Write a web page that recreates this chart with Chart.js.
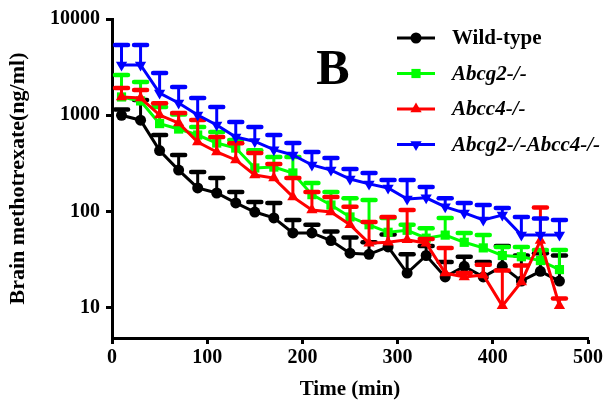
<!DOCTYPE html>
<html>
<head>
<meta charset="utf-8">
<script src="https://cdn.jsdelivr.net/npm/chart.js@4/dist/chart.umd.min.js"></script>
<style>
  html, body { margin: 0; padding: 0; background: #fff; }
</style>
</head>
<body>
<canvas id="brain-mtx-chart" width="606" height="410"></canvas>
<script>
// sampling times (min)
const times = [10, 30, 50, 70, 90, 110, 130, 150, 170, 190, 210, 230, 250, 270, 290, 310, 330, 350, 370, 390, 410, 430, 450, 470];

// brain methotrexate (ng/ml), mean and SD
const wildType = [1000, 890, 430, 270, 176, 156, 123, 99, 86, 60, 60, 50, 37, 36, 43, 23, 35, 21, 27, 21, 27, 19, 24, 19];
const wildTypeSD = [150, 550, 195, 117, 82, 67, 37, 27, 37, 22, 13, 12, 17, 12, 15, 13, 9, 9, 7, 9, 17, 16, 13, 16];
const abcg2 = [1550, 1410, 820, 720, 624, 515, 457, 284, 290, 252, 150, 117, 88, 73, 61, 64, 53, 57, 48, 42, 35, 34, 31, 25];
const abcg2SD = [1070, 810, 400, 300, 133, 155, 97, 150, 80, 118, 48, 43, 50, 59, 25, 9, 14, 29, 12, 15, 8, 9, 9, 15];
const abcc4 = [1550, 1510, 1007, 832, 528, 416, 344, 240, 223, 142, 104, 99, 73, 47, 48, 51, 47, 23, 21, 22, 10.5, 18.6, 50, 10.5];
const abcc4SD = [370, 320, 330, 225, 365, 180, 170, 166, 90, 81, 56, 43, 39, 31, 40, 53, 5, 19, 2, 6, 14, 9, 60, 2];
const doubleKO = [3330, 3330, 1705, 1342, 1007, 793, 595, 535, 440, 387, 305, 270, 218, 194, 176, 135, 139, 112, 97, 82, 92, 57, 57, 57];
const doubleKOSD = [2040, 2040, 1045, 625, 506, 427, 257, 220, 184, 128, 111, 90, 59, 58, 37, 78, 41, 26, 26, 35, 17, 31, 28, 25];

const seriesNames = ['Wild-type', 'Abcg2-/-', 'Abcc4-/-', 'Abcg2-/-Abcc4-/-'];
const yTicks = [10, 100, 1000, 10000];
const xTicks = [0, 100, 200, 300, 400, 500];

const serif = '"Liberation Serif", "Times New Roman", serif';

function toPoints(vals) {
    return times.map((t, i) => ({x: t, y: vals[i]}));
}

function makeSet(label, vals, sd, color, style, rotation, order) {
    return {
        label: label,
        data: toPoints(vals),
        sd: sd,
        borderColor: color,
        backgroundColor: color,
        borderWidth: 3,
        pointStyle: style,
        rotation: rotation,
        pointRadius: style === 'circle' ? 5.5 : 6.5,
        pointBorderWidth: 0,
        pointBackgroundColor: color,
        tension: 0,
        fill: false,
        order: order
    };
}

// upper error bars, drawn under each series' line
const errorBars = {
    id: 'errorBars',
    beforeDatasetDraw(chart, args) {
        const ds = chart.data.datasets[args.index];
        const meta = args.meta;
        const yScale = chart.scales.y;
        const ctx = chart.ctx;
        ctx.save();
        ctx.strokeStyle = ds.borderColor;
        meta.data.forEach((pt, j) => {
            const top = yScale.getPixelForValue(ds.data[j].y + ds.sd[j]);
            ctx.lineWidth = 3;
            ctx.beginPath();
            ctx.moveTo(pt.x, pt.y);
            ctx.lineTo(pt.x, top);
            ctx.stroke();
            ctx.lineWidth = 4.5;
            ctx.lineCap = 'round';
            ctx.beginPath();
            ctx.moveTo(pt.x - 6.5, top);
            ctx.lineTo(pt.x + 6.5, top);
            ctx.stroke();
            ctx.lineCap = 'butt';
        });
        ctx.restore();
    }
};

// legend with italic gene names, plus the panel letter
const decorations = {
    id: 'decorations',
    afterDraw(chart) {
        const ctx = chart.ctx;
        ctx.save();
        ctx.fillStyle = '#000';
        ctx.font = 'bold 50px ' + serif;
        ctx.textAlign = 'center';
        ctx.textBaseline = 'alphabetic';
        ctx.fillText('B', 333, 84);

        chart.data.datasets.forEach((ds, i) => {
            const y = 38 + i * 35.5;
            ctx.strokeStyle = ds.borderColor;
            ctx.fillStyle = ds.borderColor;
            ctx.lineWidth = 3;
            ctx.beginPath();
            ctx.moveTo(397, y);
            ctx.lineTo(435, y);
            ctx.stroke();
            Chart.helpers.drawPoint(ctx, {
                pointStyle: ds.pointStyle,
                rotation: ds.rotation,
                radius: ds.pointRadius,
                borderWidth: 0
            }, 416, y);
            ctx.fillStyle = '#000';
            ctx.textAlign = 'left';
            ctx.textBaseline = 'middle';
            ctx.font = (i === 0 ? 'bold ' : 'italic bold ') + '21px ' + serif;
            ctx.fillText(seriesNames[i], 452, y + 1);
        });
        ctx.restore();
    }
};

const data = {
    datasets: [
        makeSet(seriesNames[0], wildType, wildTypeSD, '#000000', 'circle', 0, 4),
        makeSet(seriesNames[1], abcg2, abcg2SD, '#00ff00', 'rect', 0, 3),
        makeSet(seriesNames[2], abcc4, abcc4SD, '#ff0000', 'triangle', 0, 2),
        makeSet(seriesNames[3], doubleKO, doubleKOSD, '#0000ff', 'triangle', 180, 1)
    ]
};

const config = {
    type: 'line',
    data: data,
    options: {
        responsive: false,
        animation: false,
        layout: {
            padding: {left: 0, top: 19, right: 18, bottom: 0}
        },
        plugins: {
            legend: {display: false},
            tooltip: {enabled: false}
        },
        scales: {
            x: {
                type: 'linear',
                min: 0,
                max: 500,
                afterFit: (scale) => { scale.height = 72; },
                afterBuildTicks: (scale) => { scale.ticks = xTicks.map(v => ({value: v})); },
                grid: {display: true, drawOnChartArea: false, drawTicks: true, tickLength: 6, tickWidth: 3, tickColor: '#000'},
                border: {display: true, width: 3, color: '#000'},
                ticks: {
                    color: '#000',
                    padding: 2,
                    maxRotation: 0,
                    font: {family: serif, size: 20, weight: 'bold'}
                },
                title: {
                    display: true,
                    text: 'Time (min)',
                    color: '#000',
                    padding: {top: 0, bottom: 8},
                    font: {family: serif, size: 21, weight: 'bold'}
                }
            },
            y: {
                type: 'logarithmic',
                min: 4.87,
                max: 10000,
                afterFit: (scale) => { scale.width = 112; },
                afterBuildTicks: (scale) => { scale.ticks = yTicks.map(v => ({value: v})); },
                grid: {display: true, drawOnChartArea: false, drawTicks: true, tickLength: 6, tickWidth: 3, tickColor: '#000'},
                border: {display: true, width: 3, color: '#000'},
                ticks: {
                    color: '#000',
                    padding: 6,
                    callback: (v) => String(v),
                    font: {family: serif, size: 20, weight: 'bold'}
                },
                title: {
                    display: true,
                    text: 'Brain methotrexate(ng/ml)',
                    color: '#000',
                    padding: {top: 5, bottom: 0},
                    font: {family: serif, size: 22, weight: 'bold'}
                }
            }
        }
    },
    plugins: [errorBars, decorations]
};

const ctx = document.getElementById('brain-mtx-chart').getContext('2d');
window.brainMtxChart = new Chart(ctx, config);
</script>
</body>
</html>
